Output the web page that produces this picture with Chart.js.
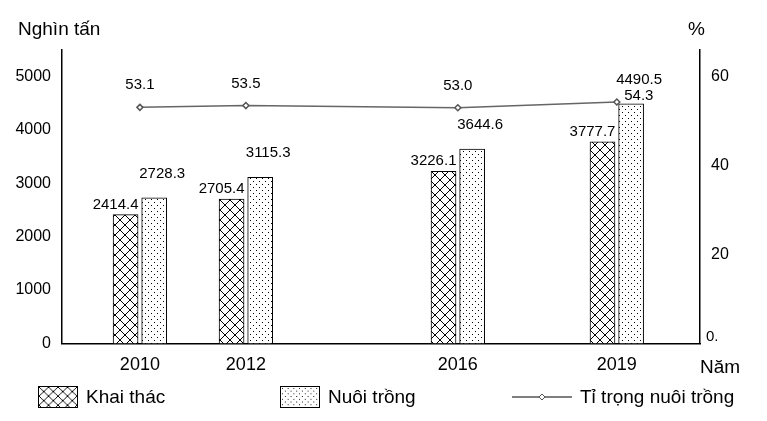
<!DOCTYPE html>
<html><head><meta charset="utf-8">
<script src="https://cdn.jsdelivr.net/npm/chart.js@4"></script>
<style>
body{margin:0;background:#fff;font-family:"Liberation Sans",Arial,sans-serif}
#wrap{position:relative;width:767px;height:421px}
.t{position:absolute;font-size:19px;color:#000}
.leg{position:absolute;top:386px;font-size:19px;display:flex;align-items:center}
.box{width:38px;height:20px;border:1px solid #000;margin-right:8px}
</style></head><body>
<div id="wrap">
<canvas id="c" width="767" height="421"></canvas>
<div class="t" style="left:18px;top:18px">Nghìn tấn</div>
<div class="t" style="left:688px;top:18px">%</div>
<div class="t" style="left:700px;top:356px">Năm</div>
<div class="leg" style="left:38px"><canvas id="p1" width="40" height="22" class="box" style="width:38px;height:20px"></canvas>Khai thác</div>
<div class="leg" style="left:280px"><canvas id="p2" width="40" height="22" class="box" style="width:38px;height:20px"></canvas>Nuôi trồng</div>
<div class="leg" style="left:512px"><svg width="60" height="20" style="margin-right:8px"><line x1="0" y1="10" x2="60" y2="10" stroke="#555" stroke-width="1.5"/><path d="M30 7 L33 10 L30 13 L27 10Z" fill="#fff" stroke="#555"/></svg>Tỉ trọng nuôi trồng</div>
</div>
<script>
const years=[2010,2012,2016,2019];
const khaiThac=[2414.4,2705.4,3226.1,3777.7];
const nuoiTrong=[2728.3,3115.3,3644.6,4490.5];
const tiTrong=[53.1,53.5,53.0,54.3];
const leftTicks=[0,1000,2000,3000,4000,5000];
const rightTicks=[0,20,40,60];

function hatch(){const c=document.createElement('canvas');c.width=c.height=10;const g=c.getContext('2d');
g.fillStyle='#fff';g.fillRect(0,0,10,10);g.strokeStyle='#000';g.lineWidth=1;
g.beginPath();g.moveTo(0,0);g.lineTo(10,10);g.moveTo(10,0);g.lineTo(0,10);g.stroke();return c;}
function dots(){const c=document.createElement('canvas');c.width=c.height=6;const g=c.getContext('2d');
g.fillStyle='#fff';g.fillRect(0,0,6,6);g.fillStyle='#000';g.fillRect(1,1,1,1);g.fillRect(4,4,1,1);return c;}
const ctx=document.getElementById('c').getContext('2d');
const pH=ctx.createPattern(hatch(),'repeat'),pD=ctx.createPattern(dots(),'repeat');
for(const [id,src] of [['p1',hatch()],['p2',dots()]]){const g=document.getElementById(id).getContext('2d');g.fillStyle=g.createPattern(src,'repeat');g.fillRect(0,0,40,22);}
const off=0.27;
const labels={id:'lbl',afterDatasetsDraw(ch){const g=ch.ctx;g.save();g.font='15px "Liberation Sans"';g.fillStyle='#000';g.textAlign='center';
 ch.getDatasetMeta(0).data.forEach((b,i)=>g.fillText(khaiThac[i].toFixed(1),b.x-10,b.y-6));
 ch.getDatasetMeta(1).data.forEach((b,i)=>g.fillText(nuoiTrong[i].toFixed(1),b.x+8,b.y-20));
 ch.getDatasetMeta(2).data.forEach((p,i)=>g.fillText(tiTrong[i].toFixed(1),p.x+(i==3?22:0),p.y-(i==3?2:18)));
 g.textAlign='left';g.fillText('0.',ch.scales.y1.left+6,ch.scales.y1.bottom-2);g.restore();}};
new Chart(ctx,{data:{datasets:[
 {type:'bar',data:years.map((y,i)=>({x:y-off,y:khaiThac[i]})),backgroundColor:pH,borderColor:'#000',borderWidth:1,barThickness:25,grouped:false,order:2},
 {type:'bar',data:years.map((y,i)=>({x:y+off,y:nuoiTrong[i]})),backgroundColor:pD,borderColor:'#000',borderWidth:1,barThickness:25,grouped:false,order:2},
 {type:'line',data:years.map((y,i)=>({x:y,y:tiTrong[i]})),yAxisID:'y1',borderColor:'#666',borderWidth:1.5,pointStyle:'rectRot',pointRadius:3,pointBackgroundColor:'#fff',pointBorderColor:'#555',order:1}
]},options:{responsive:false,animation:false,layout:{padding:{top:50,right:10,bottom:42,left:0}},
 plugins:{legend:{display:false},tooltip:{enabled:false}},
 scales:{x:{type:'linear',offset:false,min:2008.53,max:2020.57,grid:{display:false,offset:false},border:{color:'#000',width:1.5},
   afterBuildTicks:a=>{a.ticks=years.map(v=>({value:v}))},ticks:{color:'#000',font:{size:18},callback:v=>String(v)}},
  y:{min:0,max:5500,afterBuildTicks:a=>{a.ticks=leftTicks.map(v=>({value:v}))},grid:{display:false},border:{color:'#000',width:1.5},ticks:{color:'#000',font:{size:16},callback:v=>String(v)},afterFit:a=>{a.width=62}},
  y1:{position:'right',min:0,max:66,afterBuildTicks:a=>{a.ticks=rightTicks.map(v=>({value:v}))},grid:{display:false},border:{color:'#000',width:1.5},ticks:{color:'#000',font:{size:16},callback:v=>v?String(v):''},afterFit:a=>{a.width=57}}}},
 plugins:[labels]});
</script></body></html>
